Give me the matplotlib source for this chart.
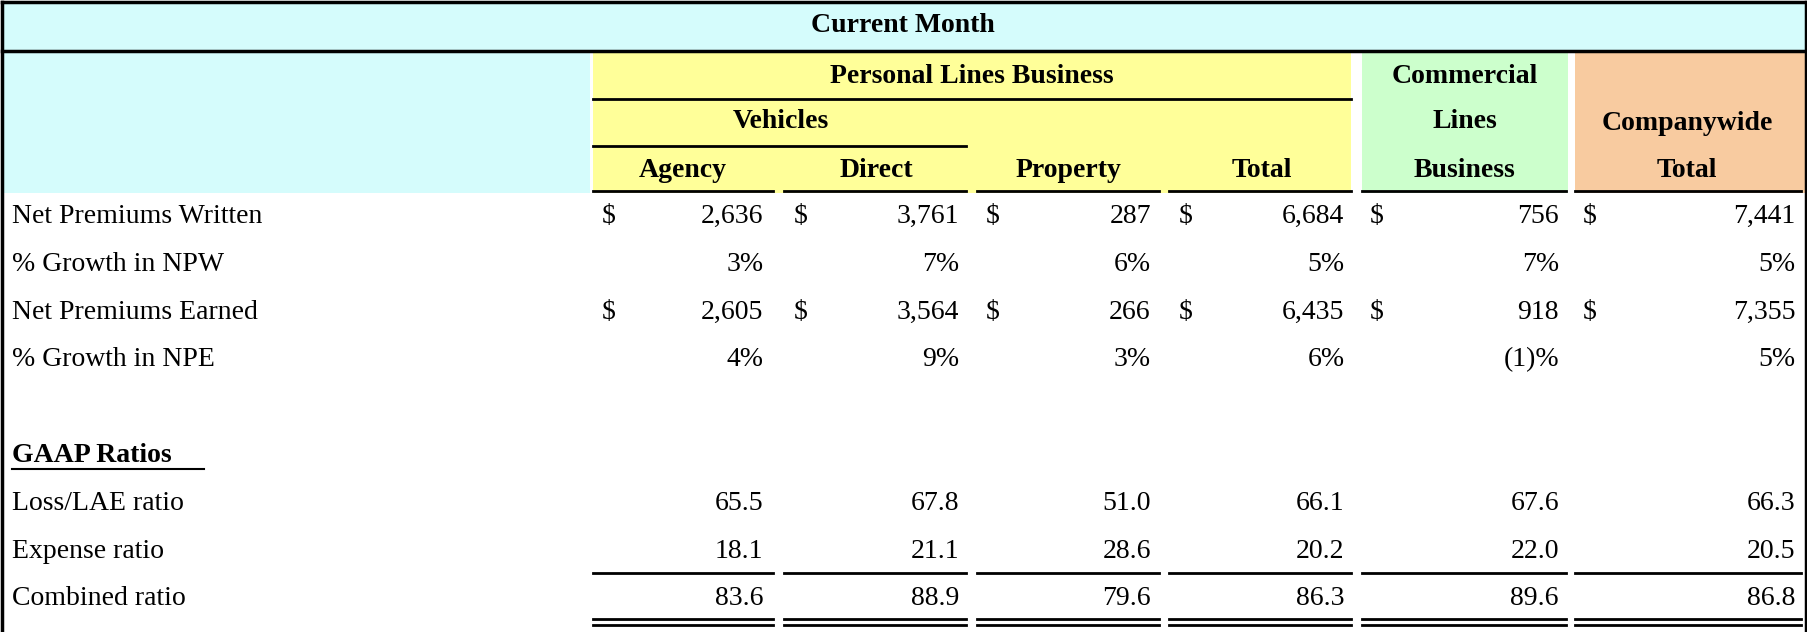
import matplotlib.pyplot as plt
from matplotlib.patches import Rectangle

row_labels = ['Net Premiums Written', '% Growth in NPW', 'Net Premiums Earned', '% Growth in NPE']
npw = ['2,636', '3,761', '287', '6,684', '756', '7,441']
npw_growth = ['3%', '7%', '6%', '5%', '7%', '5%']
npe = ['2,605', '3,564', '266', '6,435', '918', '7,355']
npe_growth = ['4%', '9%', '3%', '6%', '(1)%', '5%']
ratio_labels = ['Loss/LAE ratio', 'Expense ratio', 'Combined ratio']
loss_ratio = [65.5, 67.8, 51.0, 66.1, 67.6, 66.3]
expense_ratio = [18.1, 21.1, 28.6, 20.2, 22.0, 20.5]
combined_ratio = [83.6, 88.9, 79.6, 86.3, 89.6, 86.8]

plt.rcParams['font.family'] = ['Liberation Serif', 'DejaVu Serif']
FS = 20

fig = plt.figure(figsize=[18.08, 6.32], dpi=100)
ax = fig.add_axes([0, 0, 1, 1])
ax.set_xlim(0, 1568)
ax.set_ylim(548, 0)
ax.axis('off')

# backgrounds
ax.add_patch(Rectangle((2, 2), 1564, 42, fc='#d5fcfc', ec='none'))
ax.add_patch(Rectangle((2, 44), 510, 123, fc='#d5fcfc', ec='none'))
ax.add_patch(Rectangle((514, 46), 658, 121, fc='#ffff99', ec='none'))
ax.add_patch(Rectangle((1181, 46), 179, 121, fc='#ccffcc', ec='none'))
ax.add_patch(Rectangle((1366, 46), 200, 121, fc='#f8cba0', ec='none'))

# border
ax.plot([2, 2], [2, 560], color='k', lw=2.5)
ax.plot([1566, 1566], [2, 560], color='k', lw=2.5)
ax.plot([2, 1566], [2, 2], color='k', lw=2.5)
ax.plot([2, 1566], [44, 44], color='k', lw=2.5)

bold = dict(fontsize=FS, fontweight='bold', ha='center', va='center')
ax.text(783, 22, 'Current Month', **bold)
ax.text(843, 66, 'Personal Lines Business', **bold)
ax.plot([514, 1172], [86, 86], color='k', lw=2)
ax.text(677, 105, 'Vehicles', **bold)
ax.plot([514, 838], [127, 127], color='k', lw=2)
for name, xc in zip(['Agency', 'Direct', 'Property', 'Total'], [592, 760, 927, 1094]):
    ax.text(xc, 148, name, **bold)
for i, t in enumerate(['Commercial', 'Lines', 'Business']):
    ax.text(1270, [66, 105, 148][i], t, **bold)
ax.text(1463, 107, 'Companywide', **bold)
ax.text(1463, 148, 'Total', **bold)

segs = [(514, 670), (680, 838), (847, 1005), (1014, 1172), (1181, 1358), (1366, 1562)]
for a, b in segs:
    ax.plot([a, b], [166, 166], color='k', lw=2)

right = [662, 832, 998, 1166, 1352, 1557]
dollar = [522, 688, 855, 1022, 1188, 1373]

rows_y = [188, 229, 271, 312]
rows = [npw, npw_growth, npe, npe_growth]
for lab, y, vals in zip(row_labels, rows_y, rows):
    ax.text(10, y, lab, fontsize=FS, va='center')
    for xr, v in zip(right, vals):
        ax.text(xr, y, v, fontsize=FS, va='center', ha='right')
    if '$' not in lab and vals in (npw, npe):
        for xd in dollar:
            ax.text(xd, y, '$', fontsize=FS, va='center', ha='left')

ax.text(10, 395, 'GAAP Ratios', fontsize=FS, fontweight='bold', va='center')
ax.plot([10, 177], [407, 407], color='k', lw=1.5)

for lab, y, vals in zip(ratio_labels, [437, 478, 519], [loss_ratio, expense_ratio, combined_ratio]):
    ax.text(10, y, lab, fontsize=FS, va='center')
    for xr, v in zip(right, vals):
        ax.text(xr, y, f'{v:.1f}', fontsize=FS, va='center', ha='right')

for a, b in segs:
    ax.plot([a, b], [497, 497], color='k', lw=2)
    ax.plot([a, b], [537, 537], color='k', lw=2)
    ax.plot([a, b], [542, 542], color='k', lw=2)

fig.savefig('out.png', dpi=100)
